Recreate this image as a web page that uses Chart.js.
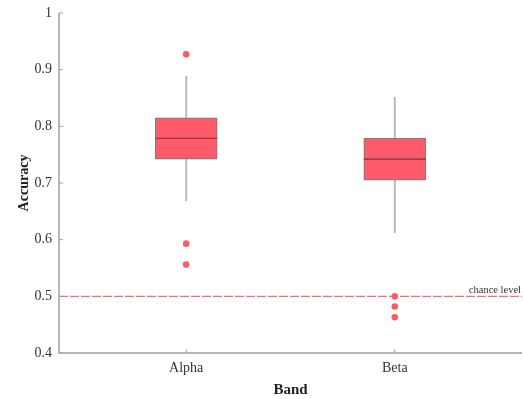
<!DOCTYPE html>
<html><head><meta charset="utf-8">
<script src="https://cdn.jsdelivr.net/npm/chart.js@4/dist/chart.umd.min.js"></script>
<style>html,body{margin:0;padding:0;background:#fff}#wrap{width:523px;height:399px}</style>
</head><body><div id="wrap"><canvas id="c" width="523" height="399"></canvas></div>
<script>
const categories = ['Alpha', 'Beta'];
const positions = [1, 2];
const q1 = [0.742, 0.705];
const medians = [0.779, 0.742];
const q3 = [0.815, 0.779];
const whiskerLow = [0.668, 0.612];
const whiskerHigh = [0.889, 0.852];
const outliers = [[0.927, 0.593, 0.556], [0.500, 0.482, 0.463]];
const chanceLevel = 0.5;
const yTicks = [0.4, 0.5, 0.6, 0.7, 0.8, 0.9, 1];

const FONT = "'Liberation Serif', 'Times New Roman', serif";
const BOX = '#ff5a69';

const datasets = [];
datasets.push({type:'bar', data: positions.map((p,i)=>({x:p, y:[q1[i], q3[i]]})),
  backgroundColor: BOX, borderColor:'#7d7d7d', borderWidth:1.2, borderSkipped:false,
  barThickness:62, order:1});
positions.forEach((p,i)=>{
  datasets.push({type:'line', data:[{x:p,y:whiskerLow[i]},{x:p,y:whiskerHigh[i]}],
    borderColor:'#b9b9b9', borderWidth:2, pointRadius:0, pointHoverRadius:0, order:3});
});
datasets.push({type:'scatter', data: positions.flatMap((p,i)=>outliers[i].map(v=>({x:p,y:v}))),
  backgroundColor: BOX, borderColor: BOX, pointRadius:3.3, borderWidth:0, order:0});
datasets.push({type:'line', data:[{x:0.39,y:chanceLevel},{x:2.61,y:chanceLevel}],
  borderColor:'rgba(255,80,95,0.85)', borderWidth:1.3, borderDash:[9,2], pointRadius:0, pointHoverRadius:0, order:2});

const extras = {
  id:'extras',
  afterDatasetsDraw(chart){
    const ctx = chart.ctx, xs = chart.scales.x, ys = chart.scales.y;
    const bars = chart.getDatasetMeta(0).data;
    ctx.save();
    bars.forEach((b,i)=>{
      const y = ys.getPixelForValue(medians[i]);
      ctx.strokeStyle='#7a3340'; ctx.lineWidth=1.2;
      ctx.beginPath(); ctx.moveTo(b.x - b.width/2, y); ctx.lineTo(b.x + b.width/2, y); ctx.stroke();
    });
    const ca = chart.chartArea;
    ctx.strokeStyle='#a0a0a0'; ctx.lineWidth=1.5;
    ctx.beginPath(); ctx.moveTo(ca.left, ys.getPixelForValue(1)); ctx.lineTo(ca.left, ca.bottom); ctx.lineTo(ca.right, ca.bottom); ctx.stroke();
    ctx.lineWidth=1;
    yTicks.forEach(v=>{const y=ys.getPixelForValue(v); ctx.beginPath(); ctx.moveTo(ca.left,y); ctx.lineTo(ca.left+4,y); ctx.stroke();});
    positions.forEach(p=>{const x=xs.getPixelForValue(p); ctx.beginPath(); ctx.moveTo(x,ca.bottom); ctx.lineTo(x,ca.bottom-4); ctx.stroke();});
    ctx.fillStyle='#333'; ctx.font = "10.5px " + FONT; ctx.textAlign='right'; ctx.textBaseline='bottom';
    ctx.fillText('chance level', ca.right - 1, ys.getPixelForValue(chanceLevel) - 1);
    ctx.restore();
  }
};

new Chart(document.getElementById('c'), {
  data:{datasets},
  options:{
    responsive:false, animation:false,
    layout:{autoPadding:false, padding:{top:13, right:1, left:0, bottom:0}},
    plugins:{legend:{display:false}, tooltip:{enabled:false}},
    scales:{
      x:{type:'linear', min:0.39, max:2.61, offset:false, grid:{display:false, drawTicks:false, offset:false}, border:{display:false},
        afterBuildTicks(s){ s.ticks = positions.map(v=>({value:v})); },
        ticks:{callback:(v)=>categories[positions.indexOf(v)] ?? '', font:{family:FONT,size:14}, color:'#333', padding:7, maxRotation:0},
        title:{display:true, text:'Band', font:{family:FONT,size:15,weight:'bold'}, color:'#222', padding:{top:3,bottom:0}},
        afterFit(s){ s.height = 46; s.paddingLeft = 0; s.paddingRight = 0; }
      },
      y:{type:'linear', min:0.4, max:1, grid:{display:false, drawTicks:false}, border:{display:false},
        afterBuildTicks(s){ s.ticks = yTicks.map(v=>({value:v})); },
        ticks:{callback:(v)=>String(Math.round(v*10)/10), font:{family:FONT,size:14}, color:'#333', padding:7},
        title:{display:true, text:'Accuracy', font:{family:FONT,size:14,weight:'bold'}, color:'#222', padding:{top:16,bottom:4}},
        afterFit(s){ s.width = 59; s.paddingTop = 0; s.paddingBottom = 0; }
      }
    }
  },
  plugins:[extras]
});
</script></body></html>
